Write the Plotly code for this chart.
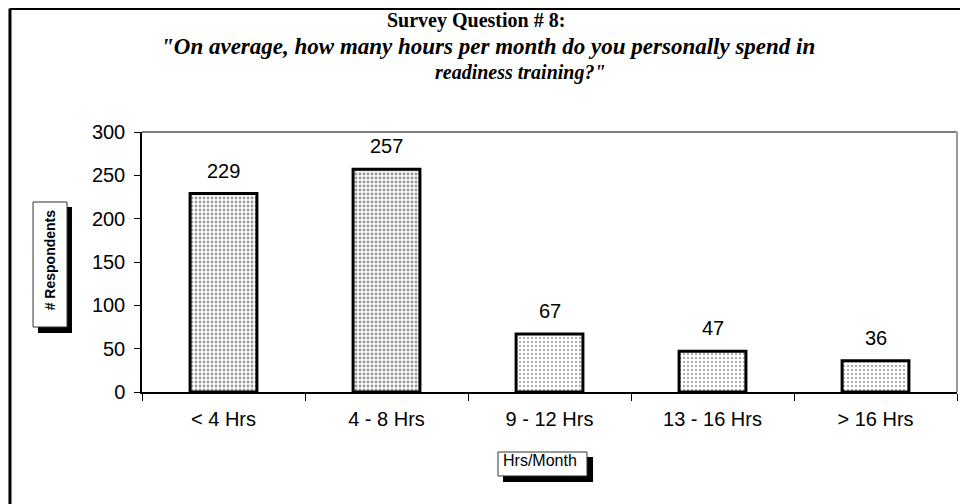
import plotly.graph_objects as go

# survey answers, question 8
categories = ['< 4 Hrs', '4 - 8 Hrs', '9 - 12 Hrs', '13 - 16 Hrs', '> 16 Hrs']
respondents = [229, 257, 67, 47, 36]
y_ticks = [0, 50, 100, 150, 200, 250, 300]

SERIF = 'Liberation Serif'
SANS = 'Liberation Sans'

fig = go.Figure()

fig.add_trace(go.Bar(
    x=categories,
    y=respondents,
    marker=dict(
        color='white',
        line=dict(color='black', width=3),
        pattern=dict(shape='.', fgcolor='#333333', bgcolor='white',
                     size=4, solidity=[0.38, 0.42, 0.24, 0.24, 0.22]),
    ),
    hoverinfo='x+y',
))

# value labels above the bars
for c, v in zip(categories, respondents):
    fig.add_annotation(x=c, y=v, text=str(v), showarrow=False,
                       yanchor='bottom', xanchor='center', yshift=10,
                       font=dict(family=SANS, size=20, color='black'))

# title lines
title_lines = [
    ('<b>Survey Question # 8:</b>', 0.41, 1.43, 20),
    ('<b><i>"On average, how many hours per month do you personally spend in</i></b>', 0.424, 1.33, 23),
    ('<b><i>readiness training?"</i></b>', 0.464, 1.23, 20),
]
for txt, x, y, sz in title_lines:
    fig.add_annotation(xref='paper', yref='paper', x=x, y=y, text=txt, showarrow=False,
                       xanchor='center', yanchor='middle',
                       font=dict(family=SERIF, size=sz, color='black'))

shapes = [
    # outer frame (left and top edges visible)
    dict(type='line', xref='paper', yref='paper', x0=-0.162, x1=-0.162, y0=-0.45, y1=1.475,
         line=dict(color='black', width=3)),
    dict(type='line', xref='paper', yref='paper', x0=-0.162, x1=1.02, y0=1.475, y1=1.475,
         line=dict(color='black', width=3)),
    # plot area top / right border
    dict(type='line', xref='paper', yref='paper', x0=0, x1=1, y0=1, y1=1,
         line=dict(color='#555555', width=1.5)),
    dict(type='line', xref='paper', yref='paper', x0=1, x1=1, y0=0, y1=1,
         line=dict(color='#999999', width=2)),
    # y title box + shadow
    dict(type='rect', xref='paper', yref='paper', x0=-0.1276, x1=-0.0859, y0=0.2269, y1=0.7115,
         fillcolor='black', line=dict(width=0)),
    dict(type='rect', xref='paper', yref='paper', x0=-0.1337, x1=-0.092, y0=0.25, y1=0.7308,
         fillcolor='white', line=dict(color='#333333', width=1)),
    # x title box + shadow
    dict(type='rect', xref='paper', yref='paper', x0=0.443, x1=0.5534, y0=-0.346, y1=-0.25,
         fillcolor='black', line=dict(width=0)),
    dict(type='rect', xref='paper', yref='paper', x0=0.4368, x1=0.546, y0=-0.323, y1=-0.2308,
         fillcolor='white', line=dict(color='#333333', width=1)),
]
fig.update_layout(shapes=shapes)

fig.add_annotation(xref='paper', yref='paper', x=-0.113, y=0.51, textangle=-90,
                   xanchor='center', yanchor='middle',
                   text='<b># Respondents</b>', showarrow=False,
                   font=dict(family=SANS, size=14, color='black'))
fig.add_annotation(xref='paper', yref='paper', x=0.488, y=-0.262,
                   xanchor='center', yanchor='middle',
                   text='Hrs/Month', showarrow=False,
                   font=dict(family=SANS, size=16, color='black'))

fig.update_xaxes(
    type='category', showline=True, linecolor='black', linewidth=1.5,
    ticks='outside', tickson='boundaries', ticklen=7, tickcolor='black',
    ticklabelstandoff=8,
    tickfont=dict(family=SANS, size=20, color='black'),
    showgrid=False, zeroline=False,
)
fig.update_yaxes(
    range=[0, 300], tickvals=y_ticks, showline=True, linecolor='black', linewidth=1.5,
    ticks='outside', ticklen=6, tickcolor='black', ticklabelstandoff=5,
    tickfont=dict(family=SANS, size=20, color='black'),
    showgrid=False, zeroline=False,
)

# page body adds an 8px offset, so the figure is 8px smaller than the window
fig.update_layout(
    width=960, height=496,
    margin=dict(l=134, r=11, t=124, b=112),
    paper_bgcolor='white', plot_bgcolor='white',
    bargap=0.59, showlegend=False,
)

fig.write_html('out.html')
